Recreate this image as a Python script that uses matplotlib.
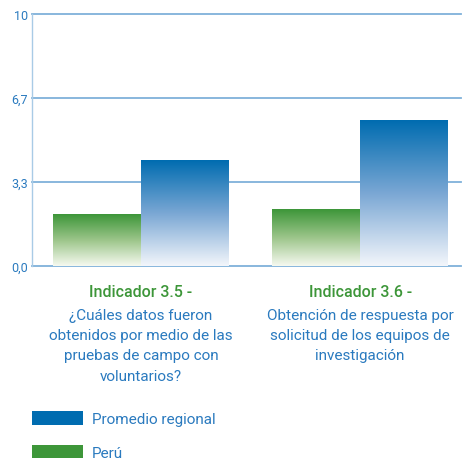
import numpy as np
import matplotlib.pyplot as plt
from matplotlib.patches import Patch
from matplotlib.colors import LinearSegmentedColormap

plt.rcParams['font.family'] = ['Roboto', 'DejaVu Sans']

indicators = ['Indicador 3.5 -', 'Indicador 3.6 -']
descriptions = [
    '¿Cuáles datos fueron\nobtenidos por medio de las\npruebas de campo con\nvoluntarios?',
    'Obtención de respuesta por\nsolicitud de los equipos de\ninvestigación',
]
peru = [2.06, 2.26]
regional = [4.17, 5.79]
yticks = [0, 3.33, 6.67, 10]
ytick_labels = ['0,0', '3,3', '6,7', '10']

BLUE = '#006cb0'
GREEN = '#3d9639'
TEXT_BLUE = '#2a7abf'
GRID = '#7fb1da'

green_cmap = LinearSegmentedColormap.from_list('g', ['#f6f9f0', '#9cc58a', GREEN])
blue_cmap = LinearSegmentedColormap.from_list('b', ['#f3f6fb', '#7aa7d4', BLUE])
grad = np.linspace(0, 1, 256).reshape(-1, 1)

fig = plt.figure(figsize=(4.62, 4.60), dpi=100)
ax = fig.add_axes([0.069, 0.4196, 0.929, 0.5478])

width = 0.40
x = np.arange(len(indicators))


def gradient_bar(ax, xc, h, cmap):
    ax.imshow(grad, cmap=cmap, origin='lower', aspect='auto',
              extent=[xc - width / 2, xc + width / 2, 0, h], zorder=3)


for i in x:
    gradient_bar(ax, i - width / 2, peru[i], green_cmap)
    gradient_bar(ax, i + width / 2, regional[i], blue_cmap)

ax.set_xlim(-0.498, 1.461)
ax.set_ylim(0, 10)
ax.set_yticks(yticks)
ax.set_yticklabels(ytick_labels, color=TEXT_BLUE, fontsize=9)
ax.tick_params(axis='y', length=0, pad=3)
ax.set_xticks([])
for y in yticks:
    ax.axhline(y, color=GRID, linewidth=1.3, zorder=1, clip_on=False)
for side in ['top', 'right', 'bottom']:
    ax.spines[side].set_visible(False)
ax.spines['left'].set_color('#a9cbe6')
ax.spines['left'].set_linewidth(1.0)

# category captions beneath the axis
for i in x:
    ax.text(i, -0.72, indicators[i], color=GREEN, fontsize=11.5, fontweight='medium',
            ha='center', va='top', transform=ax.transData)
    ax.text(i, -1.65, descriptions[i], color=TEXT_BLUE, fontsize=11, ha='center', va='top',
            linespacing=1.58, transform=ax.transData)

handles = [Patch(facecolor=BLUE, label='Promedio regional'),
           Patch(facecolor=GREEN, label='Perú')]
leg = fig.legend(handles=handles, loc='upper left', bbox_to_anchor=(0.07, 0.104),
                 frameon=False, fontsize=11, handlelength=3.3, handleheight=1.0,
                 labelspacing=1.2, handletextpad=0.6, borderaxespad=0, borderpad=0)
for t in leg.get_texts():
    t.set_color(TEXT_BLUE)

fig.savefig('out.png', dpi=100)
